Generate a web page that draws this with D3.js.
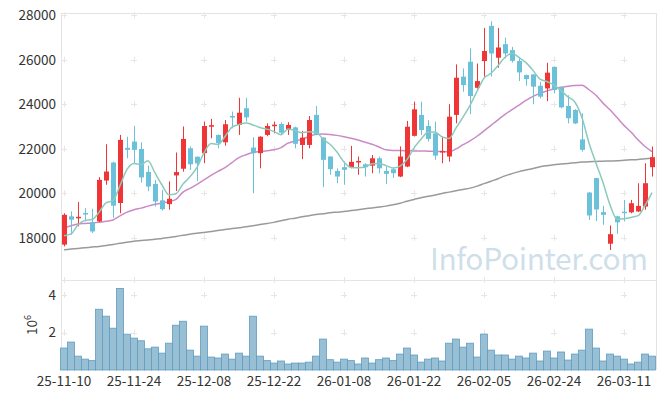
<!DOCTYPE html>
<html>
<head>
<meta charset="utf-8">
<script src="https://cdn.jsdelivr.net/npm/d3@7"></script>
<style>
  body { margin: 0; background: #fff; }
  svg text { font-family: "Noto Sans CJK KR", "Noto Sans", sans-serif; }
</style>
</head>
<body>
<div class="chart"></div>
<script>
// stock candle chart with 5/20/120 moving averages and volume
const W = 665, H = 398;

const dates = [
  "25-11-10","25-11-11","25-11-12","25-11-13","25-11-14","25-11-17","25-11-18","25-11-19","25-11-20","25-11-21",
  "25-11-24","25-11-25","25-11-26","25-11-27","25-11-28","25-12-01","25-12-02","25-12-03","25-12-04","25-12-05",
  "25-12-08","25-12-09","25-12-10","25-12-11","25-12-12","25-12-15","25-12-16","25-12-17","25-12-18","25-12-19",
  "25-12-22","25-12-23","25-12-24","25-12-26","25-12-29","25-12-30","26-01-02","26-01-05","26-01-06","26-01-07",
  "26-01-08","26-01-09","26-01-12","26-01-13","26-01-14","26-01-15","26-01-16","26-01-19","26-01-20","26-01-21",
  "26-01-22","26-01-23","26-01-26","26-01-27","26-01-28","26-01-29","26-01-30","26-02-02","26-02-03","26-02-04",
  "26-02-05","26-02-06","26-02-09","26-02-10","26-02-11","26-02-12","26-02-13","26-02-19","26-02-20","26-02-23",
  "26-02-24","26-02-25","26-02-26","26-02-27","26-03-03","26-03-04","26-03-05","26-03-06","26-03-09","26-03-10",
  "26-03-11","26-03-12","26-03-13","26-03-16","26-03-17"
];

const open = [
  17690,18960,18900,19110,18700,18730,20570,21380,19560,22040,
  22320,21990,20960,20420,19680,19510,20800,21100,22020,21640,
  21800,22990,22620,22290,23470,23070,23820,22050,21800,22620,
  23020,23110,22840,22960,22170,22170,23520,22500,21650,21000,
  21170,21170,21400,21300,21240,21570,21000,21080,20750,21200,
  22580,23520,23020,22690,21830,21650,23520,25240,25910,24740,
  25940,27520,26090,26700,26430,25940,25310,25340,24830,24710,
  25680,24760,23920,23740,22420,20030,20680,19150,17730,18960,
  19170,19140,19180,19400,21170
];
const high = [
  19100,19180,19600,19330,19300,20720,22200,21420,22620,22540,
  23020,22290,21240,20600,20150,20530,21830,23000,22100,21650,
  23220,23340,22640,23290,23670,24290,24290,22520,22560,23140,
  23220,23190,23190,22990,22800,23470,23920,22520,21660,21120,
  21420,22130,21650,21350,21720,21650,21200,21150,22100,23250,
  24110,24110,23290,23220,22540,24000,25790,25610,26510,25830,
  27430,27730,27430,26990,26580,26130,25330,25360,25010,25860,
  25700,24780,24400,23780,23590,20050,20700,19430,18550,18980,
  19700,19700,20450,21350,22100
];
const low = [
  17610,18130,18510,18730,18210,18700,20380,18900,19100,21570,
  21350,20480,20090,19400,19220,19260,20100,20970,21050,20540,
  21350,22470,22020,22140,22920,22620,23220,20000,21120,22560,
  22690,22650,22620,22020,21530,22020,22600,20270,20830,20450,
  20380,21120,20830,20750,20900,20900,20420,20690,20720,21170,
  22550,22620,22320,21500,21350,21420,23140,24560,23550,24700,
  25240,25240,25640,26060,25870,25040,24830,24000,24260,24140,
  24490,23820,23140,23110,21870,18800,18750,18580,17450,18180,
  18730,19100,19150,19260,20750
];
const close = [
  19030,18810,18940,19060,18280,20600,20975,19440,22400,21950,
  21950,20710,20300,19630,19280,19750,20950,22440,21300,21340,
  23020,23060,22250,23100,23400,23620,23410,21800,22540,23020,
  23080,22720,23070,22220,22500,23290,22620,21500,21080,20750,
  21050,21410,21450,21170,21570,21120,20870,20900,21650,22990,
  23770,22840,22440,21690,21900,23440,25190,24860,24370,25040,
  26390,26280,26550,26280,25950,25430,25130,24790,24340,25420,
  24640,23860,23370,23140,21950,19000,19270,19030,18160,18690,
  19110,19550,19430,20450,21620
];

// volume in shares
const volume = [
  1170000,1490000,740000,580000,500000,3240000,2870000,2230000,4350000,1910000,
  1700000,1560000,1130000,1220000,900000,1430000,2390000,2600000,1060000,740000,
  2340000,690000,640000,850000,580000,900000,740000,2870000,740000,500000,
  370000,480000,320000,370000,370000,420000,740000,1650000,550000,420000,
  580000,500000,320000,640000,370000,550000,640000,500000,850000,1170000,
  800000,420000,580000,640000,480000,1430000,1650000,1220000,1430000,690000,
  1910000,1060000,800000,800000,580000,740000,640000,900000,480000,1010000,
  640000,960000,530000,850000,1060000,2180000,1170000,480000,850000,740000,
  580000,320000,420000,850000,740000
];

// moving averages
const ma5 = [
  18090,18170,18580,18780,18820,19140,19570,19670,20340,21070,
  21340,21290,21460,20910,20370,19930,19980,20410,20740,21160,
  21810,22230,22190,22550,22970,23090,23160,23070,22950,22880,
  22770,22630,22890,22820,22720,22760,22740,22430,22200,21850,
  21400,21160,21150,21170,21330,21340,21240,21130,21220,21510,
  22040,22430,22740,22750,22530,22460,22930,23420,23950,24580,
  25170,25390,25730,26110,26290,26100,25870,25520,25130,25020,
  24860,24610,24330,24090,23390,22260,21350,20480,19480,18830,
  18850,18910,18990,19450,20030
];
const ma20 = [
  18430,18540,18620,18640,18660,18690,18740,18800,18980,19150,
  19260,19330,19420,19500,19560,19620,19720,20050,20220,20400,
  20600,20800,20980,21150,21380,21600,21730,21830,21870,21910,
  21950,22050,22250,22350,22430,22550,22650,22660,22640,22600,
  22540,22470,22390,22290,22200,22080,21950,21920,21920,21910,
  21900,21900,21890,21880,21870,21860,21990,22180,22350,22560,
  22800,23050,23300,23540,23760,23960,24170,24350,24490,24600,
  24700,24760,24810,24840,24850,24650,24400,24050,23750,23400,
  23050,22750,22400,22100,21870
];
const ma120 = [
  17460,17490,17520,17550,17580,17610,17650,17700,17750,17800,
  17840,17870,17900,17930,17970,18010,18060,18110,18160,18200,
  18240,18280,18320,18370,18410,18450,18490,18540,18590,18640,
  18690,18760,18830,18880,18940,18990,19040,19080,19120,19150,
  19180,19220,19260,19300,19340,19380,19420,19480,19550,19640,
  19720,19800,19860,19920,19990,20050,20110,20170,20230,20320,
  20430,20540,20650,20780,20880,20970,21040,21110,21190,21240,
  21280,21310,21340,21370,21400,21420,21430,21440,21450,21460,
  21480,21500,21520,21550,21580
];

const priceTicks = [18000, 20000, 22000, 24000, 26000, 28000];
const volTicks = [2000000, 4000000];
const dateTicks = ["25-11-10","25-11-24","25-12-08","25-12-22","26-01-08","26-01-22","26-02-05","26-02-24","26-03-11"];

const PLOT = {left: 62, right: 657, top: 13, mid: 280, bottom: 370};
const UP = "#ef3535", DOWN = "#6bc0da";

const svg = d3.select(".chart").append("svg")
  .attr("width", W).attr("height", H);

const x = d3.scaleBand()
  .domain(dates)
  .range([60.5, 655.5])
  .padding(0);
const cx = d => x(d) + x.bandwidth() / 2;

const y = d3.scaleLinear()
  .domain([16100, 28100])
  .range([PLOT.mid, PLOT.top]);

const yv = d3.scaleLinear()
  .domain([0, 4800000])
  .range([PLOT.bottom, PLOT.mid]);

// frame
const frame = svg.append("g").attr("stroke", "#e3e3e3").attr("fill", "none");
frame.append("line").attr("x1", PLOT.left).attr("x2", PLOT.right).attr("y1", PLOT.top + 0.5).attr("y2", PLOT.top + 0.5);
frame.append("line").attr("x1", PLOT.left).attr("x2", PLOT.right).attr("y1", PLOT.mid + 0.5).attr("y2", PLOT.mid + 0.5);
frame.append("line").attr("x1", PLOT.left - 0.5).attr("x2", PLOT.left - 0.5).attr("y1", PLOT.top).attr("y2", PLOT.bottom);
frame.append("line").attr("x1", PLOT.right - 0.5).attr("x2", PLOT.right - 0.5).attr("y1", PLOT.top).attr("y2", PLOT.bottom);

// little "+" grid markers
const gx = dateTicks.map(cx);
const gy = priceTicks.map(y).concat([PLOT.mid]).concat(volTicks.map(yv));
const plus = svg.append("g").attr("stroke", "#e6e6e6").attr("stroke-width", 1);
gx.forEach(px => gy.forEach(py => {
  plus.append("line").attr("x1", px - 3).attr("x2", px + 3).attr("y1", Math.round(py) + 0.5).attr("y2", Math.round(py) + 0.5);
  plus.append("line").attr("x1", Math.round(px) + 0.5).attr("x2", Math.round(px) + 0.5).attr("y1", py - 3).attr("y2", py + 3);
}));

// watermark
svg.append("text")
  .attr("x", 430).attr("y", 270)
  .attr("font-size", 30)
  .attr("fill", "#c6dae6")
  .attr("fill-opacity", 0.85)
  .attr("textLength", 218)
  .text("InfoPointer.com");

// volume bars
svg.append("g").selectAll("rect")
  .data(dates).enter()
  .append("rect")
  .attr("x", d => x(d))
  .attr("width", x.bandwidth())
  .attr("y", (d, i) => yv(volume[i]))
  .attr("height", (d, i) => yv(0) - yv(volume[i]))
  .attr("fill", "#98bfd3")
  .attr("stroke", "#5f9cc0")
  .attr("stroke-width", 0.8);

// moving averages
function drawLine(vals, color) {
  const line = d3.line()
    .x((v, i) => cx(dates[i]))
    .y(v => y(v))
    .curve(d3.curveMonotoneX);
  svg.append("path")
    .datum(vals)
    .attr("d", line)
    .attr("fill", "none")
    .attr("stroke", color)
    .attr("stroke-width", 1.5);
}
drawLine(ma120, "#9a9a9a");
drawLine(ma20, "#cb8ac6");

// candles
const candle = svg.append("g").selectAll("g")
  .data(dates).enter()
  .append("g")
  .attr("class", "candle");

candle.append("line")
  .attr("x1", d => Math.round(cx(d)) + 0.5)
  .attr("x2", d => Math.round(cx(d)) + 0.5)
  .attr("y1", (d, i) => y(high[i]))
  .attr("y2", (d, i) => y(low[i]))
  .attr("stroke", (d, i) => close[i] >= open[i] ? UP : DOWN)
  .attr("stroke-width", 1);

candle.append("rect")
  .attr("x", d => Math.round(cx(d)) - 2)
  .attr("width", 5)
  .attr("y", (d, i) => y(Math.max(open[i], close[i])))
  .attr("height", (d, i) => Math.max(1.5, Math.abs(y(open[i]) - y(close[i]))))
  .attr("fill", (d, i) => close[i] >= open[i] ? UP : DOWN);

drawLine(ma5, "#8ccabd");

// axes
const yAxis = svg.append("g")
  .attr("transform", "translate(" + (PLOT.left - 6) + ",0)")
  .call(d3.axisLeft(y).tickValues(priceTicks).tickSize(0).tickPadding(0).tickFormat(d3.format("d")));
const vAxis = svg.append("g")
  .attr("transform", "translate(" + (PLOT.left - 6) + ",0)")
  .call(d3.axisLeft(yv).tickValues(volTicks).tickSize(0).tickPadding(0).tickFormat(d => d / 1e6));
const xAxis = svg.append("g")
  .attr("transform", "translate(0," + (PLOT.bottom + 2) + ")")
  .call(d3.axisBottom(x).tickValues(dateTicks).tickSize(0).tickPadding(4));

[yAxis, vAxis, xAxis].forEach(a => {
  a.select(".domain").remove();
  a.selectAll("text")
    .attr("fill", "#333")
    .style("font-size", "13.5px")
    .style("font-family", "'Noto Sans CJK KR', 'Noto Sans', sans-serif");
});

// 10^6 unit label
const unit = svg.append("text")
  .attr("transform", "translate(37,325) rotate(-90)")
  .attr("text-anchor", "middle")
  .attr("fill", "#333")
  .style("font-size", "13.5px");
unit.append("tspan").text("10");
unit.append("tspan").attr("dy", -6).style("font-size", "9px").text("6");
</script>
</body>
</html>
